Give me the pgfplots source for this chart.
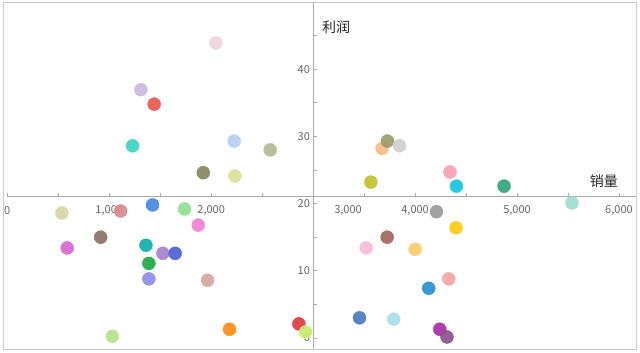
\documentclass[border=0pt]{standalone}
\usepackage{pgfplots}
\pgfplotsset{compat=1.18}
\usepackage{fontspec}
\setmainfont{Noto Sans CJK SC}
\definecolor{axl}{HTML}{AAAAAA}
\definecolor{frm}{HTML}{CCCCCC}
\definecolor{tlab}{HTML}{666666}
\newcommand{\pt}[4]{\xglobal\definecolor{pc#1}{HTML}{#2}\addplot[only marks, mark=*, mark size=6.5pt, draw=pc#1, fill=pc#1, opacity=0.92] coordinates {(#3,#4)};}
\begin{document}
\begin{tikzpicture}
\begin{axis}[
  scale only axis, width=633pt, height=347pt,
  xmin=-42, xmax=6167, ymin=-1.64, ymax=50,
  axis line style={draw=frm, line width=0.8pt},
  ticks=none, clip=false,
]
% inner axes
\draw[axl, line width=0.8pt] (axis cs:3000,-1.64) -- (axis cs:3000,50);
\draw[axl, line width=0.8pt] (axis cs:0,21) -- (axis cs:6167,21);
\pgfplotsinvokeforeach{0,500,...,6000}{
  \draw[axl, line width=0.7pt] (axis cs:#1,21) -- ++(0pt,3.5pt);
}
\pgfplotsinvokeforeach{0,5,...,45}{
  \draw[axl, line width=0.7pt] (axis cs:3000,#1) -- ++(3.5pt,0pt);
}
% data
\pt{a}{EED6DC}{2046}{43.9}
\pt{b}{CCB8DE}{1311}{36.95}
\pt{c}{E8574F}{1441}{34.8}
\pt{d}{3DD4C4}{1229}{28.6}
\pt{e}{B5CEF0}{2226}{29.3}
\pt{f}{B4BA92}{2579}{28.0}
\pt{g}{86875F}{1923}{24.6}
\pt{h}{DEE097}{2232}{24.1}
\pt{i}{F8BC84}{3676}{28.2}
\pt{j}{9A9B6B}{3729}{29.3}
\pt{k}{CFCFCF}{3847}{28.6}
\pt{l}{F7A0B0}{4343}{24.7}
\pt{m}{C2C22E}{3566}{23.2}
\pt{n}{10C8E0}{4406}{22.6}
\pt{o}{2EA57A}{4873}{22.6}
\pt{p}{9ADDD0}{5539}{20.1}
\pt{q}{9A9A9A}{4210}{18.8}
\pt{r}{FFCC10}{4402}{16.4}
\pt{s}{A2675E}{3726}{15.0}
\pt{t}{F9BBD8}{3520}{13.4}
\pt{u}{FFCB6E}{4000}{13.2}
\pt{v}{F7A3A8}{4330}{8.8}
\pt{w}{2590CC}{4134}{7.4}
\pt{x}{4F79C2}{3455}{3.0}
\pt{y}{A6E0EC}{3791}{2.8}
\pt{z}{A92BA8}{4242}{1.3}
\pt{aa}{8B528C}{4313}{0.15}
\pt{ab}{4488E0}{1425}{19.8}
\pt{ac}{90E090}{1739}{19.2}
\pt{ad}{D6D6A4}{536}{18.6}
\pt{ae}{DB8A8E}{1112}{18.9}
\pt{af}{F47ED4}{1873}{16.8}
\pt{ag}{8A7262}{916}{15.0}
\pt{ah}{D46AD0}{588}{13.4}
\pt{ai}{12AFAA}{1360}{13.8}
\pt{aj}{A882CE}{1526}{12.6}
\pt{ak}{4A62DA}{1647}{12.6}
\pt{al}{1EAA48}{1389}{11.1}
\pt{am}{8E8EEE}{1389}{8.8}
\pt{an}{D8A69C}{1965}{8.6}
\pt{ao}{FF8C10}{2180}{1.3}
\pt{ap}{B6E28A}{1030}{0.25}
\pt{aq}{E43842}{2860}{2.1}
\pt{ar}{C8EE70}{2926}{0.9}
% labels
\pgfplotsinvokeforeach{0,10,20,30,40}{
  \node[anchor=east, text=tlab, font=\fontsize{11}{13}\selectfont, inner sep=0pt] at (axis cs:3000,#1) [xshift=-3pt] {#1};
}
\node[text=tlab, font=\fontsize{11}{13}\selectfont, inner sep=0pt] at (axis cs:0,21) [yshift=-13.3pt] {0};
\node[text=tlab, font=\fontsize{11}{13}\selectfont, inner sep=0pt] at (axis cs:1000,21) [yshift=-13.3pt] {1,000};
\node[text=tlab, font=\fontsize{11}{13}\selectfont, inner sep=0pt] at (axis cs:2000,21) [yshift=-13.3pt] {2,000};
\node[text=tlab, font=\fontsize{11}{13}\selectfont, inner sep=0pt] at (axis cs:3342,21) [yshift=-13.3pt] {3,000};
\node[text=tlab, font=\fontsize{11}{13}\selectfont, inner sep=0pt] at (axis cs:4000,21) [yshift=-13.3pt] {4,000};
\node[text=tlab, font=\fontsize{11}{13}\selectfont, inner sep=0pt] at (axis cs:5000,21) [yshift=-13.3pt] {5,000};
\node[text=tlab, font=\fontsize{11}{13}\selectfont, inner sep=0pt] at (axis cs:6000,21) [yshift=-13.3pt] {6,000};
\node[text=black!85, font=\fontsize{14}{16}\selectfont, inner sep=0pt] at (axis cs:3225,46.3) {利润};
\node[text=black!85, font=\fontsize{14}{16}\selectfont, inner sep=0pt] at (axis cs:5853,23.4) {销量};
\end{axis}
\path ([shift={(-3pt,-3pt)}]current axis.south west) rectangle ([shift={(4pt,2pt)}]current axis.north east);
\end{tikzpicture}
\end{document}
